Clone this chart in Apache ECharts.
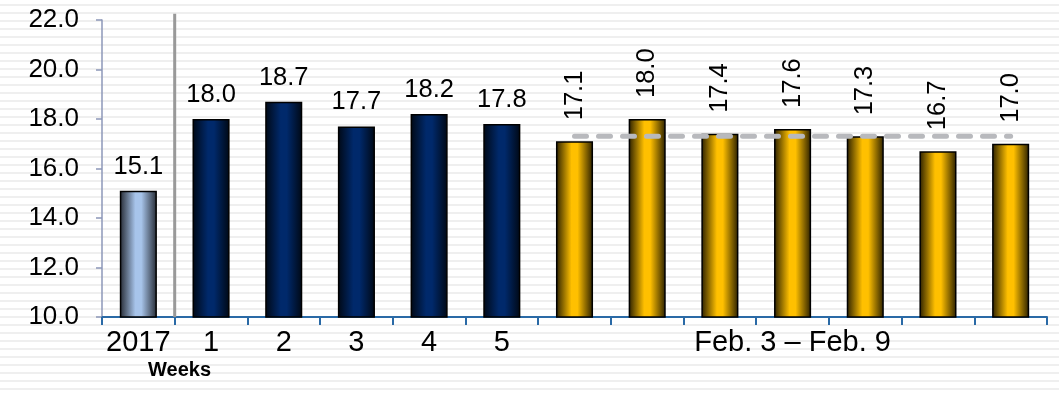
<!DOCTYPE html>
<html>
<head>
<meta charset="utf-8">
<script src="https://cdn.jsdelivr.net/npm/echarts@6/dist/echarts.min.js"></script>
<style>
  html, body { margin: 0; padding: 0; }
  body {
    width: 1059px; height: 396px;
    background: repeating-linear-gradient(to bottom, #ffffff 0px, #ffffff 4px, #efefef 4px, #efefef 6px, #ffffff 6px, #ffffff 8px);
  }
  #chart { width: 1059px; height: 396px; }
</style>
</head>
<body>
<div id="chart"></div>
<script>
// Categories: 2017 baseline, weeks 1-5, then seven days Feb. 3 – Feb. 9
const categories = ['2017', '1', '2', '3', '4', '5', 'd1', 'd2', 'd3', 'd4', 'd5', 'd6', 'd7'];
const tickLabels = ['2017', '1', '2', '3', '4', '5', '', '', '', 'Feb. 3 – Feb. 9', '', '', ''];
const values = [15.1, 18.0, 18.7, 17.7, 18.2, 17.8, 17.1, 18.0, 17.4, 17.6, 17.3, 16.7, 17.0];
const groups = ['base', 'week', 'week', 'week', 'week', 'week', 'day', 'day', 'day', 'day', 'day', 'day', 'day'];
const yTicks = { min: 10, max: 22, step: 2 };
const dayAverage = 17.3;
const separatorTop = 22.25;
const axisTitle = 'Weeks';

function shade(edge, mid) {
  return new echarts.graphic.LinearGradient(0, 0, 1, 0, [
    { offset: 0, color: edge },
    { offset: 0.42, color: mid },
    { offset: 0.58, color: mid },
    { offset: 1, color: edge }
  ]);
}
const fills = {
  base: shade('#252a33', '#a7c4ea'),
  week: shade('#000814', '#00296b'),
  day: shade('#2a1f00', '#ffc000')
};

const font = '"Liberation Sans", Arial, sans-serif';

const barData = values.map((v, i) => {
  const g = groups[i];
  const item = { value: v, itemStyle: { color: fills[g] } };
  if (g === 'day') {
    item.label = { rotate: 90, align: 'left', verticalAlign: 'middle', distance: 19, offset: [2, 0] };
  }
  return item;
});

// Day-average positions on a hidden continuous x scale (category centres at i + 0.5)
const firstDay = groups.indexOf('day');
const lastDay = groups.lastIndexOf('day');
const avgLine = [[firstDay + 0.5, dayAverage], [lastDay + 0.5, dayAverage]];
const sepLine = [[1, yTicks.min], [1, separatorTop]];

const chart = echarts.init(document.getElementById('chart'), null, { renderer: 'canvas' });
chart.setOption({
  backgroundColor: 'transparent',
  animation: false,
  title: {
    text: axisTitle,
    left: 148, top: 360, padding: 0,
    textStyle: { fontFamily: font, fontSize: 20, fontWeight: 'bold', color: '#000' }
  },
  grid: { left: 102, right: 12, top: 20, bottom: 79, containLabel: false, outerBoundsMode: 'none' },
  xAxis: [
    {
      type: 'category',
      data: categories,
      axisLine: { lineStyle: { color: '#2a6aa6', width: 2 } },
      axisTick: { show: true, length: 8, lineStyle: { color: '#2a6aa6', width: 2 } },
      axisLabel: {
        fontFamily: font, fontSize: 29, color: '#000', margin: 11, interval: 0,
        formatter: (v, i) => tickLabels[i]
      },
      splitLine: { show: false }
    },
    { type: 'value', min: 0, max: categories.length, show: false }
  ],
  yAxis: {
    type: 'value',
    min: yTicks.min, max: yTicks.max, interval: yTicks.step,
    axisLine: { show: true, lineStyle: { color: '#8c97b8', width: 1.5 } },
    axisTick: { show: true, length: 6, inside: false, lineStyle: { color: '#8c97b8', width: 1.5 } },
    axisLabel: { fontFamily: font, fontSize: 26, color: '#000', margin: 23, formatter: v => v.toFixed(1) },
    splitLine: { show: false }
  },
  series: [
    {
      type: 'bar',
      xAxisIndex: 0,
      data: barData,
      barWidth: '51%',
      itemStyle: { borderColor: '#000', borderWidth: 1.5 },
      label: {
        show: true, position: 'top', distance: 11,
        fontFamily: font, fontSize: 25.5, color: '#000',
        formatter: p => p.value.toFixed(1)
      },
      z: 2
    },
    {
      type: 'line',
      xAxisIndex: 1,
      data: sepLine,
      symbol: 'none',
      clip: false,
      lineStyle: { color: '#999999', width: 3 },
      z: 3
    },
    {
      type: 'line',
      xAxisIndex: 1,
      data: avgLine,
      symbol: 'none',
      lineStyle: { color: '#b8b9bd', width: 5, type: [12, 12], cap: 'round' },
      z: 4
    }
  ]
});
</script>
</body>
</html>
